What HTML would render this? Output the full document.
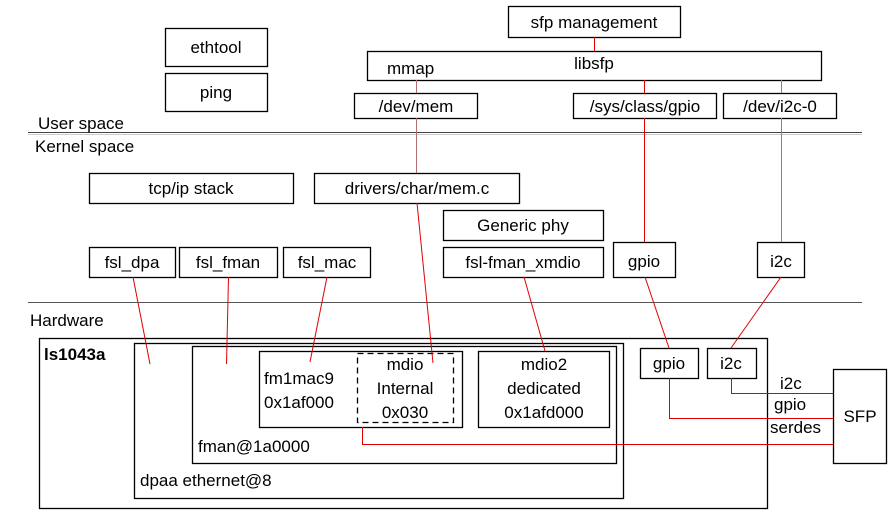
<!DOCTYPE html>
<html><head><meta charset="utf-8"><style>
html,body{margin:0;padding:0;background:#fff;}
svg{display:block;}
text{font-family:"Liberation Sans",sans-serif;font-size:17px;fill:#000;}
</style></head><body>
<svg width="893" height="520" viewBox="0 0 893 520" xmlns="http://www.w3.org/2000/svg">
<g fill="none" stroke="#000" stroke-width="1.3">
<rect x="508.5" y="6.5" width="172" height="31"/>
<rect x="367.5" y="51.5" width="454" height="29"/>
<rect x="165.5" y="28.5" width="102" height="38"/>
<rect x="165.5" y="73.5" width="102" height="38"/>
<rect x="354.5" y="93.5" width="123" height="25"/>
<rect x="573.5" y="93.5" width="143" height="25"/>
<rect x="723.5" y="93.5" width="113" height="25"/>
<rect x="89.5" y="173.5" width="204" height="30"/>
<rect x="314.5" y="173.5" width="205" height="30"/>
<rect x="443.5" y="210.5" width="160" height="30"/>
<rect x="443.5" y="247.5" width="160" height="30"/>
<rect x="89.5" y="247.5" width="86" height="30"/>
<rect x="179.5" y="247.5" width="98" height="30"/>
<rect x="283.5" y="247.5" width="87" height="30"/>
<rect x="613.5" y="242.5" width="62" height="35"/>
<rect x="757.5" y="242.5" width="47" height="35"/>
<rect x="39.5" y="338.5" width="728" height="170"/>
<rect x="134.5" y="343.5" width="489" height="155"/>
<rect x="192.5" y="346.5" width="424" height="117"/>
<rect x="259.5" y="351.5" width="203" height="76"/>
<rect x="357.5" y="353.5" width="96" height="69" stroke-dasharray="6,4"/>
<rect x="478.5" y="351.5" width="131" height="76"/>
<rect x="640.5" y="348.5" width="58" height="30"/>
<rect x="707.5" y="348.5" width="49" height="30"/>
<rect x="833.5" y="369.5" width="53" height="94"/>
</g>
<line x1="28" y1="132.5" x2="862" y2="132.5" stroke="#444" stroke-width="1"/>
<line x1="28" y1="134.5" x2="862" y2="134.5" stroke="#ccc" stroke-width="1"/>
<line x1="28" y1="302.5" x2="862" y2="302.5" stroke="#555" stroke-width="1"/>
<g stroke="#e00000" stroke-width="1" fill="none">
<line x1="594.5" y1="37" x2="594.5" y2="51"/>
<line x1="644.5" y1="80" x2="644.5" y2="93"/>
<line x1="644.5" y1="118" x2="644.5" y2="242"/>
<line x1="133" y1="277" x2="150" y2="364"/>
<line x1="228.5" y1="277" x2="226.5" y2="364"/>
<line x1="327" y1="277" x2="310" y2="362"/>
<line x1="417" y1="203" x2="433" y2="363"/>
<line x1="524" y1="277" x2="545" y2="351"/>
<line x1="645" y1="277" x2="669" y2="348"/>
<line x1="781" y1="277" x2="731" y2="348"/>
<polyline points="731.5,378 731.5,393.5 833,393.5"/>
<polyline points="669.5,378 669.5,418.5 833,418.5"/>
<polyline points="362.5,427 362.5,444.5 833,444.5"/>
</g>
<g stroke="#b07070" stroke-width="1">
<line x1="416.5" y1="80" x2="416.5" y2="93"/>
<line x1="416.5" y1="118" x2="416.5" y2="173"/>
<line x1="781.5" y1="80" x2="781.5" y2="93"/>
<line x1="781.5" y1="118" x2="781.5" y2="242"/>
</g>
<g text-anchor="middle">
<text x="594" y="28">sfp management</text>
<text x="594" y="69">libsfp</text>
<text x="216" y="53">ethtool</text>
<text x="216" y="98">ping</text>
<text x="416" y="112">/dev/mem</text>
<text x="645" y="112">/sys/class/gpio</text>
<text x="780" y="112">/dev/i2c-0</text>
<text x="191" y="194">tcp/ip stack</text>
<text x="417" y="194">drivers/char/mem.c</text>
<text x="523" y="231">Generic phy</text>
<text x="523" y="268">fsl-fman_xmdio</text>
<text x="132" y="268">fsl_dpa</text>
<text x="228" y="268">fsl_fman</text>
<text x="327" y="268">fsl_mac</text>
<text x="644" y="267">gpio</text>
<text x="781" y="267">i2c</text>
<text x="405" y="370">mdio</text>
<text x="405" y="394">Internal</text>
<text x="405" y="418">0x030</text>
<text x="544" y="370">mdio2</text>
<text x="544" y="394">dedicated</text>
<text x="544" y="418">0x1afd000</text>
<text x="669" y="369">gpio</text>
<text x="731" y="369">i2c</text>
<text x="860" y="422">SFP</text>
</g>
<text x="387" y="74">mmap</text>
<text x="38" y="129">User space</text>
<text x="35" y="152">Kernel space</text>
<text x="30" y="326">Hardware</text>
<text x="44" y="360" font-weight="bold">ls1043a</text>
<text x="264" y="384">fm1mac9</text>
<text x="264" y="408">0x1af000</text>
<text x="198" y="452">fman@1a0000</text>
<text x="140" y="486">dpaa ethernet@8</text>
<text x="780" y="389">i2c</text>
<text x="774" y="410">gpio</text>
<text x="770" y="433">serdes</text>
</svg>
</body></html>
